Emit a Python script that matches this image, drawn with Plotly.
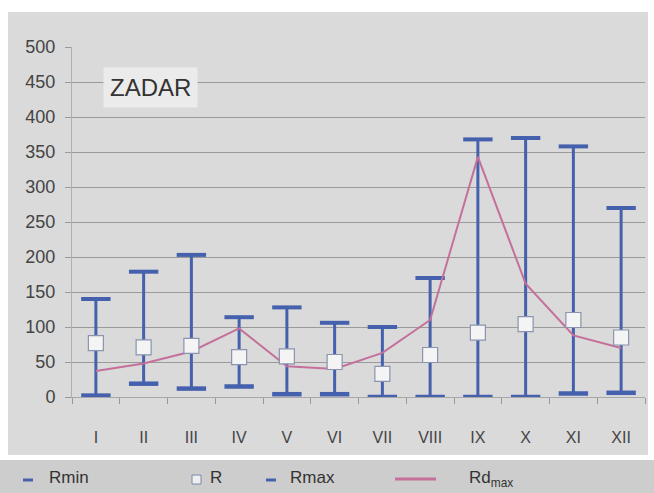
import plotly.graph_objects as go

months = ["I", "II", "III", "IV", "V", "VI", "VII", "VIII", "IX", "X", "XI", "XII"]
r_min = [2, 19, 12, 15, 4, 4, 0, 0, 0, 0, 5, 6]
r_mean = [77, 71, 73, 57, 58, 50, 33, 60, 92, 104, 110, 85]
r_max = [140, 179, 203, 114, 128, 106, 100, 170, 368, 370, 358, 270]
rd_max = [37, 48, 65, 98, 44, 40, 63, 110, 343, 162, 88, 70]
y_ticks = [0, 50, 100, 150, 200, 250, 300, 350, 400, 450, 500]

BLUE = "#4561ad"
PINK = "#c4709a"
FONT = "Liberation Sans, Arial, sans-serif"

fig = go.Figure()

fig.add_trace(go.Scatter(
    x=months, y=r_min, mode="markers", marker=dict(size=1, opacity=0),
    error_y=dict(type="data", symmetric=False,
                 array=[a - b for a, b in zip(r_max, r_min)],
                 arrayminus=[0] * len(r_min),
                 color=BLUE, thickness=3, width=0),
    showlegend=False, hoverinfo="skip"))
fig.add_trace(go.Scatter(
    x=months, y=r_min, mode="markers", name="Rmin",
    marker=dict(symbol="line-ew", size=21, line=dict(color=BLUE, width=4.5)),
    showlegend=False))
fig.add_trace(go.Scatter(
    x=months, y=r_max, mode="markers", name="Rmax",
    marker=dict(symbol="line-ew", size=21, line=dict(color=BLUE, width=4)),
    showlegend=False))
fig.add_trace(go.Scatter(
    x=months, y=rd_max, mode="lines", name="Rd max",
    line=dict(color=PINK, width=2), showlegend=False))
fig.add_trace(go.Scatter(
    x=months, y=r_mean, mode="markers", name="R",
    marker=dict(symbol="square", size=15, color="#f4f4f4",
                line=dict(color="#8a94b0", width=1.2)),
    showlegend=False))

PW, PH, L, T = 573.0, 350.0, 72.0, 47.0


def px(x):
    return (x - L) / PW


def py(y):
    return (T + PH - y) / PH


shapes = [
    dict(type="rect", xref="paper", yref="paper", x0=px(8), x1=px(648),
         y0=py(455), y1=py(12), fillcolor="#dadada", line_width=0, layer="below"),
    dict(type="rect", xref="paper", yref="paper", x0=px(0), x1=px(654),
         y0=py(493), y1=py(460), fillcolor="#cdcdcd", line_width=0, layer="below"),
    dict(type="line", xref="paper", yref="paper", x0=px(23), x1=px(33),
         y0=py(480), y1=py(480), line=dict(color=BLUE, width=3)),
    dict(type="rect", xref="paper", yref="paper", x0=px(192), x1=px(201),
         y0=py(484), y1=py(475), fillcolor="#efefef", line=dict(color="#7a88b0", width=1)),
    dict(type="line", xref="paper", yref="paper", x0=px(266), x1=px(276),
         y0=py(480), y1=py(480), line=dict(color=BLUE, width=3)),
    dict(type="line", xref="paper", yref="paper", x0=px(395), x1=px(436),
         y0=py(479), y1=py(479), line=dict(color=PINK, width=3)),
]

annotations = [
    dict(text="ZADAR", xref="paper", yref="paper", x=px(150), y=py(88), showarrow=False,
         xanchor="center", yanchor="middle", font=dict(family=FONT, size=24, color="#333333"),
         bgcolor="#ebebeb", borderpad=6),
    dict(text="Rmin", xref="paper", yref="paper", x=px(47), y=py(477), showarrow=False,
         xanchor="left", yanchor="middle", font=dict(family=FONT, size=17, color="#333333")),
    dict(text="R", xref="paper", yref="paper", x=px(208), y=py(477), showarrow=False,
         xanchor="left", yanchor="middle", font=dict(family=FONT, size=17, color="#333333")),
    dict(text="Rmax", xref="paper", yref="paper", x=px(288), y=py(477), showarrow=False,
         xanchor="left", yanchor="middle", font=dict(family=FONT, size=17, color="#333333")),
    dict(text="Rd<sub>max</sub>", xref="paper", yref="paper", x=px(467), y=py(479), showarrow=False,
         xanchor="left", yanchor="middle", font=dict(family=FONT, size=17, color="#333333")),
]

fig.update_layout(
    width=654, height=493,
    margin=dict(l=72, r=9, t=47, b=96, autoexpand=False),
    paper_bgcolor="white",
    plot_bgcolor="#cbcbcb",
    shapes=shapes,
    annotations=annotations,
    font=dict(family=FONT, color="#444444"),
    showlegend=False,
)
fig.update_xaxes(
    type="category", categoryorder="array", categoryarray=months,
    range=[-0.5, len(months) - 0.5],
    tickson="boundaries", ticks="outside", ticklen=6, tickcolor="#999999",
    ticklabelstandoff=26, automargin=False,
    showgrid=False, showline=True, linecolor="#a8a8a8", linewidth=1,
    tickfont=dict(family=FONT, size=16, color="#444444"),
)
fig.update_yaxes(
    range=[0, 500], tickvals=y_ticks, ticks="outside", ticklen=6, tickcolor="#999999",
    showgrid=True, gridcolor="#9a9a9a", gridwidth=1, automargin=False,
    showline=True, linecolor="#b0b0b0", zeroline=False,
    tickfont=dict(family=FONT, size=18, color="#444444"),
    ticklabelstandoff=6,
)

fig.write_html(
    "out.html",
    config={"displayModeBar": False},
    post_script="document.body.style.margin='0';document.body.style.overflow='hidden';",
)
